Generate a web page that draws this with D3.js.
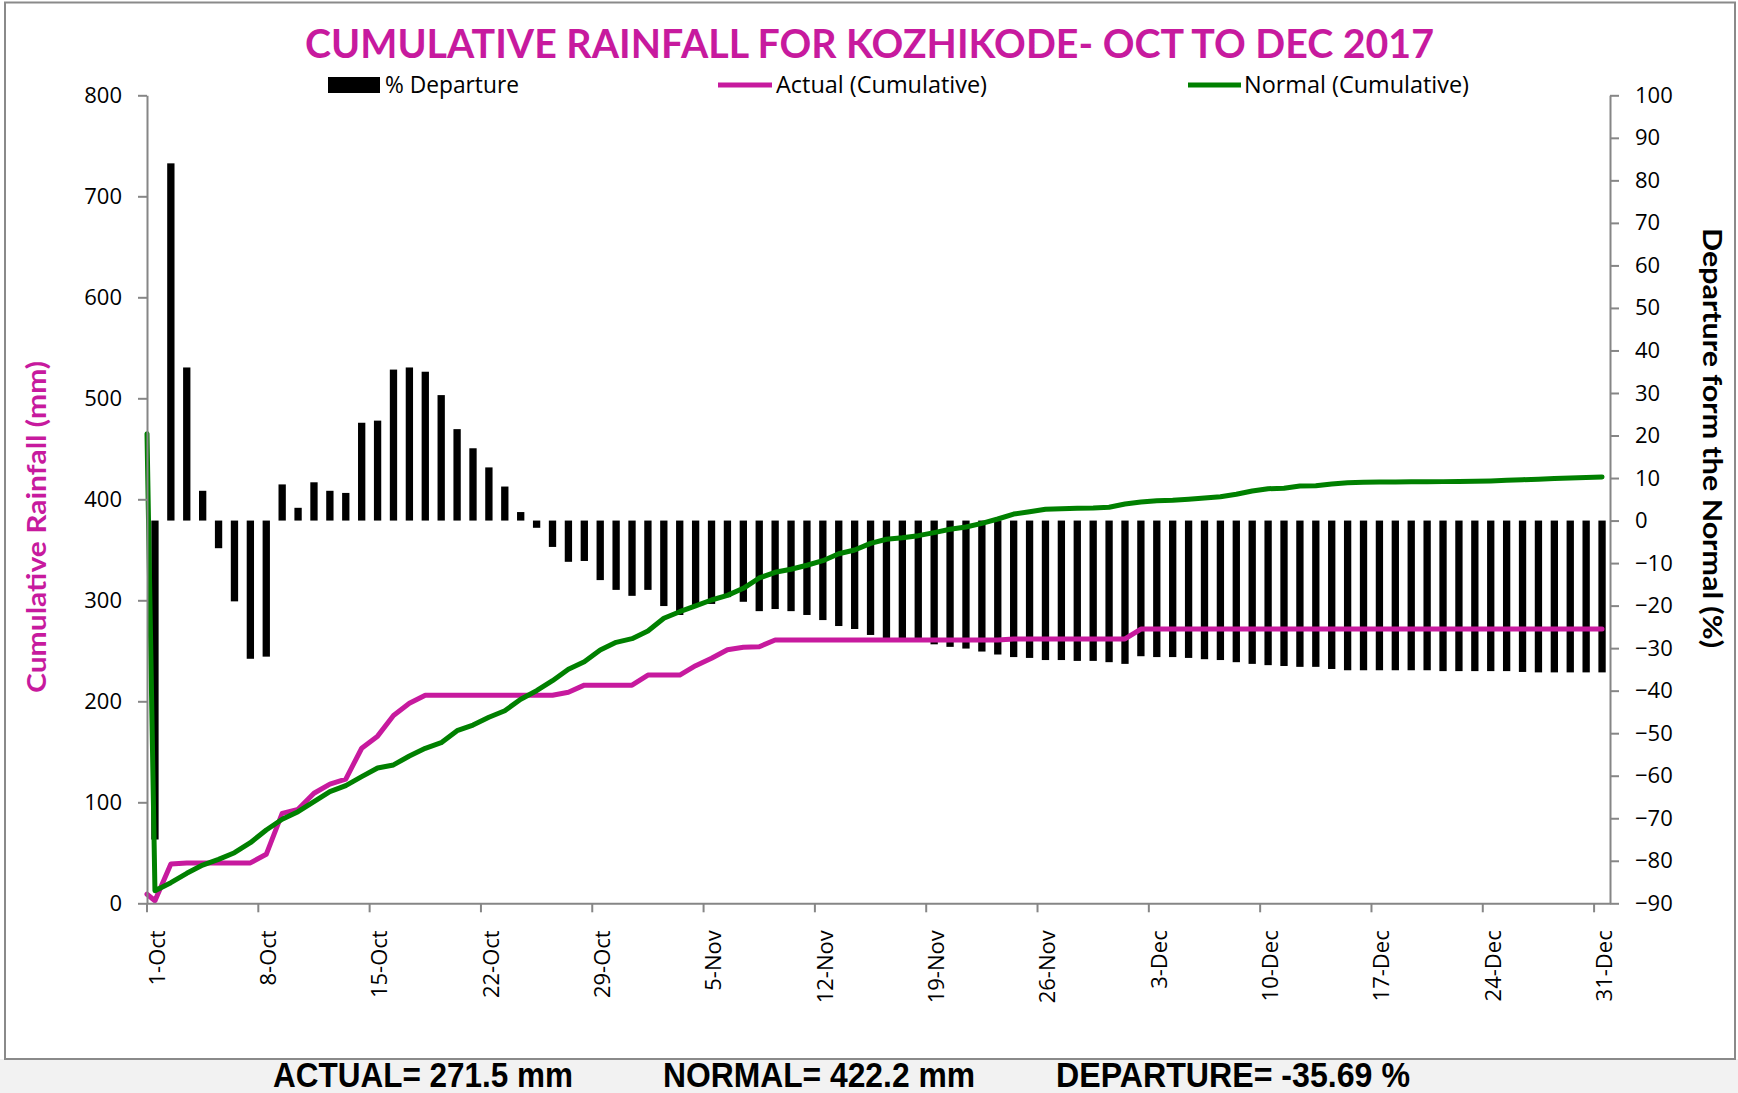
<!DOCTYPE html>
<html>
<head>
<meta charset="utf-8">
<script src="https://cdn.jsdelivr.net/npm/d3@7/dist/d3.min.js"></script>
<style>
	body { margin: 0; background: #fff; }
</style>
</head>
<body>
<script>

// categories: one per day, 1 Oct to 31 Dec 2017
var days = d3.timeDay.range(new Date(2017, 9, 1), new Date(2018, 0, 1)).map(d3.timeFormat('%-d-%b'));
var tickLabels = ['1-Oct', '8-Oct', '15-Oct', '22-Oct', '29-Oct', '5-Nov', '12-Nov', '19-Nov', '26-Nov', '3-Dec', '10-Dec', '17-Dec', '24-Dec', '31-Dec'];

// % departure from normal, per day
var departure = [
	-75, 84, 36, 7, -6.5, -19, -32.5, -32, 8.5, 3,
	9, 7, 6.5, 23, 23.5, 35.5, 36, 35, 29.5, 21.5,
	17, 12.5, 8, 2, -1.7, -6.2, -9.7, -9.5, -14, -16.3,
	-17.7, -16.3, -20.1, -22.2, -20.3, -19.6, -18, -19.1, -21.3, -20.8,
	-21.3, -22.2, -23.4, -24.8, -25.5, -26.9, -27.7, -28, -28.4, -29.1,
	-29.7, -30.1, -30.8, -31.5, -32.1, -32.3, -32.8, -32.8, -33, -33,
	-33.3, -33.7, -31.9, -32.1, -32.1, -32.3, -32.6, -32.8, -33.3, -33.7,
	-34, -34.2, -34.4, -34.4, -34.9, -35.2, -35.2, -35.2, -35.2, -35.2,
	-35.2, -35.4, -35.4, -35.4, -35.4, -35.4, -35.6, -35.7, -35.7, -35.7,
	-35.7, -35.7
];

// cumulative rainfall (mm); first value sits on the axis origin, the rest on each day
var actualCum = [9,
	2.5, 39, 40, 40, 40, 40, 40, 48.5, 89, 93,
	109, 118, 123, 153.5, 165.5, 186, 198, 206, 206, 206,
	206, 206, 206, 206, 206, 206, 209, 216, 216, 216,
	216, 226, 226, 226, 235.3, 242.6, 251, 253.5, 254, 260.7,
	260.7, 260.7, 260.7, 260.7, 260.7, 260.7, 260.7, 260.7, 260.7, 260.7,
	260.7, 260.7, 260.7, 260.7, 261.7, 261.7, 261.7, 261.7, 261.7, 261.7,
	261.7, 261.7, 271.5, 271.5, 271.5, 271.5, 271.5, 271.5, 271.5, 271.5,
	271.5, 271.5, 271.5, 271.5, 271.5, 271.5, 271.5, 271.5, 271.5, 271.5,
	271.5, 271.5, 271.5, 271.5, 271.5, 271.5, 271.5, 271.5, 271.5, 271.5,
	271.5, 271.5
];
var normalCum = [465,
	12.5, 20.4, 29.7, 37.9, 43.5, 50.1, 60, 72.6, 83.2, 90.7,
	100.6, 110.5, 116.5, 125.4, 134, 137, 145.8, 153.5, 159, 170.9,
	176.5, 184.2, 190.7, 202, 210.5, 220.4, 231.7, 239.2, 250.8, 258.4,
	262, 269.6, 282.2, 288.7, 294.4, 300.3, 304.9, 311.9, 322.1, 327.7,
	330.7, 334.7, 339.2, 346.1, 349.8, 356.4, 360.4, 362, 364, 367,
	370.3, 372.6, 376.2, 380.5, 385.4, 387.7, 390.1, 390.7, 391.1, 391.4,
	392.1, 395.3, 397.3, 398.6, 399, 400, 401.3, 402.6, 405, 408.2,
	410.5, 410.9, 413.2, 413.5, 415.2, 416.4, 416.8, 417.1, 417.1, 417.4,
	417.4, 417.5, 417.6, 417.9, 418.2, 418.8, 419.4, 419.9, 420.6, 421,
	421.6, 422.2
];

var leftTicks = d3.range(0, 801, 100);
var rightTicks = d3.range(-90, 101, 10);
var summary = ['ACTUAL= 271.5 mm', 'NORMAL= 422.2 mm', 'DEPARTURE= -35.69 %'];

var dim = { width: 1738, height: 1093, left: 147, right: 1610, top: 95.3, bottom: 903.3 };
var MAGENTA = '#c71a9e', GREEN = '#008000', AXIS = '#868686';

var svg = d3.select('body').append('svg')
	.attr('width', dim.width)
	.attr('height', dim.height)
	.style('display', 'block');

// frame + grey footer band
svg.append('rect')
	.attr('x', 0).attr('y', 1059)
	.attr('width', dim.width).attr('height', dim.height - 1059)
	.attr('fill', '#f2f2f2');
svg.append('rect')
	.attr('x', 5).attr('y', 2.5)
	.attr('width', 1730).attr('height', 1056.5)
	.attr('fill', '#fff')
	.attr('stroke', '#8a8a8a')
	.attr('stroke-width', 2);

// scales
var x = d3.scaleBand().domain(days).range([dim.left, dim.right]).padding(0);
var lineX = d3.scaleLinear().domain([0, days.length]).range([dim.left, dim.right]);
var yL = d3.scaleLinear().domain([0, 800]).range([dim.bottom, dim.top]);
var yR = d3.scaleLinear().domain([-90, 100]).range([dim.bottom, dim.top]);

// departure bars
var barW = x.step() * 0.46;
svg.append('g').attr('id', 'bar-layer')
	.selectAll('rect')
	.data(departure)
	.enter().append('rect')
	.attr('x', function(d, i){ return x(days[i]) + (x.step() - barW) / 2; })
	.attr('y', function(d){ return yR(Math.max(d, 0)); })
	.attr('width', barW)
	.attr('height', function(d){ return Math.abs(yR(d) - yR(0)); })
	.attr('fill', '#000');

// cumulative lines
var line = d3.line()
	.x(function(d, j){ return lineX(j === 0 ? 0 : j - 0.5); })
	.y(function(d){ return yL(d); });

appendLine(actualCum, MAGENTA);
appendLine(normalCum, GREEN);

// axes
var xAxis = svg.append('g')
	.attr('transform', 'translate(0,' + dim.bottom + ')')
	.call(d3.axisBottom(x).tickValues(tickLabels).tickSize(9).tickSizeOuter(0).tickFormat(''));
xAxis.selectAll('.tick line').attr('x1', -x.step() / 2).attr('x2', -x.step() / 2);
xAxis.selectAll('.tick').append('text')
	.attr('transform', 'rotate(-90)')
	.attr('x', -27)
	.attr('y', 0)
	.attr('dy', '0.45em')
	.attr('text-anchor', 'end')
	.attr('fill', '#000')
	.style('font', '22px "Liberation Sans", Arial, sans-serif')
	.text(function(d){ return d; });
styleAxis(xAxis);

var leftAxis = svg.append('g')
	.attr('transform', 'translate(' + dim.left + ',0)')
	.call(d3.axisLeft(yL).tickValues(leftTicks).tickSize(9).tickSizeOuter(0).tickPadding(16));
styleAxis(leftAxis);

var rightAxis = svg.append('g')
	.attr('transform', 'translate(' + dim.right + ',0)')
	.call(d3.axisRight(yR).tickValues(rightTicks).tickSize(9).tickSizeOuter(0).tickPadding(16));
styleAxis(rightAxis);

// titles
appendText(svg, 305, 58, 'CUMULATIVE RAINFALL FOR KOZHIKODE- OCT TO DEC 2017', 1129)
	.attr('fill', MAGENTA)
	.style('font', 'bold 40px Lato, "Open Sans", sans-serif');

appendText(svg, 0, 0, 'Cumulative Rainfall (mm)', 332)
	.attr('transform', 'translate(46,527) rotate(-90)')
	.attr('x', -166)
	.attr('fill', MAGENTA)
	.style('font', 'bold 26px Lato, "Open Sans", sans-serif');

appendText(svg, 0, 0, 'Departure form the Normal (%)', 420)
	.attr('transform', 'translate(1703,438) rotate(90)')
	.attr('x', -210)
	.attr('fill', '#000')
	.style('font', 'bold 26px Lato, "Open Sans", sans-serif');

// legend
var legend = svg.append('g').attr('id', 'legend');
legend.append('rect')
	.attr('x', 328).attr('y', 77).attr('width', 52).attr('height', 16)
	.attr('fill', '#000');
legendText(385, '% Departure', 134);
legend.append('line')
	.attr('x1', 718).attr('x2', 772).attr('y1', 85).attr('y2', 85)
	.attr('stroke', MAGENTA).attr('stroke-width', 5);
legendText(776, 'Actual (Cumulative)', 211);
legend.append('line')
	.attr('x1', 1188).attr('x2', 1241).attr('y1', 85).attr('y2', 85)
	.attr('stroke', GREEN).attr('stroke-width', 5);
legendText(1244, 'Normal (Cumulative)', 225);

// footer summary
var footX = [273, 663, 1056], footW = [300, 312, 354];
summary.forEach(function(s, i){
	appendText(svg, footX[i], 1087, s, footW[i])
		.attr('fill', '#000')
		.style('font', 'bold 35px "Liberation Sans", Arial, sans-serif');
});

function appendLine(data, color){
	return svg.append('path')
		.datum(data)
		.attr('d', line)
		.attr('fill', 'none')
		.attr('stroke', color)
		.attr('stroke-width', 5)
		.attr('stroke-linejoin', 'round')
		.attr('stroke-linecap', 'round');
}

function styleAxis(g){
	g.select('.domain').attr('stroke', AXIS).attr('stroke-width', 2);
	g.selectAll('.tick line').attr('stroke', AXIS).attr('stroke-width', 2);
	g.selectAll('.tick text')
		.attr('fill', '#000')
		.style('font-family', '"Open Sans", sans-serif')
		.style('font-size', '22px');
}

function appendText(target, tx, ty, str, len){
	var text = target.append('text')
		.attr('x', tx)
		.attr('y', ty)
		.text(str);
	if(len) text.attr('textLength', len).attr('lengthAdjust', 'spacingAndGlyphs');
	return text;
}

function legendText(tx, str, len){
	return appendText(legend, tx, 85, str, len)
		.attr('dy', '0.35em')
		.attr('fill', '#000')
		.style('font', '23px "Open Sans", sans-serif');
}

</script>
</body>
</html>
